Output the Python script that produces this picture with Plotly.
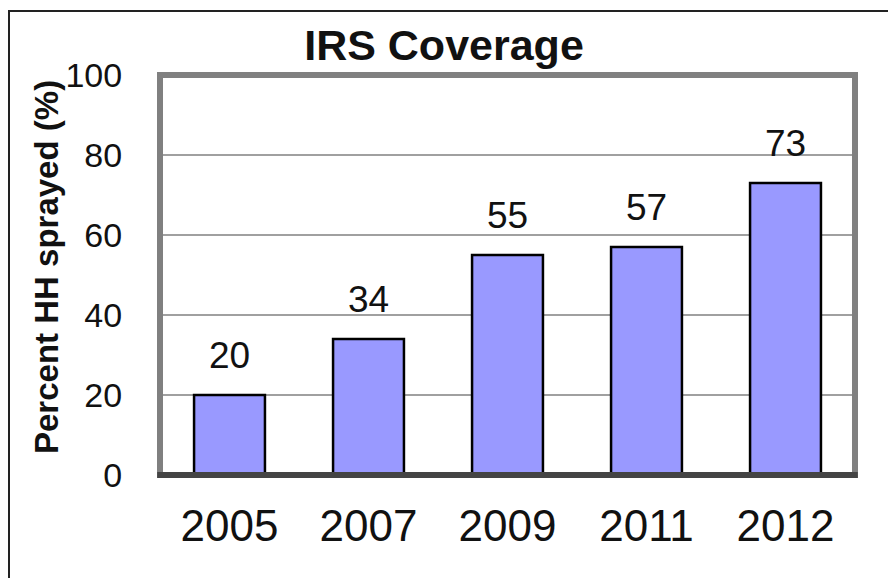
import plotly.graph_objects as go

years = ["2005", "2007", "2009", "2011", "2012"]
coverage = [20, 34, 55, 57, 73]
y_ticks = [0, 20, 40, 60, 80, 100]

FONT = "Liberation Sans, Arial, sans-serif"

fig = go.Figure()
fig.add_trace(go.Bar(
    x=years, y=coverage,
    marker=dict(color="#9999FF", line=dict(color="#000000", width=2.5)),
    hoverinfo="skip",
))

n = len(years)
for i, v in enumerate(coverage):
    fig.add_annotation(x=(i + 0.5) / n, y=v, xref="paper", yref="y", text=str(v),
                       showarrow=False, xanchor="center", yanchor="bottom", yshift=17,
                       font=dict(family=FONT, size=37, color="#111111"))

# y-axis title as annotation
fig.add_annotation(text="<b>Percent HH sprayed (%)</b>", xref="paper", yref="paper",
                   x=(46 - 160) / 695, y=(475 - 267) / 400, textangle=-90,
                   showarrow=False, xanchor="center", yanchor="middle",
                   font=dict(family=FONT, size=33, color="#111111"))

fig.update_layout(
    width=888, height=578,
    margin=dict(l=160, r=33, t=75, b=103),
    paper_bgcolor="white", plot_bgcolor="white",
    showlegend=False,
    title=dict(text="<b>IRS Coverage</b>", x=0.5, xref="container", xanchor="center",
               y=1 - 45 / 578, yref="container", yanchor="middle",
               font=dict(family=FONT, size=43, color="#111111")),
    bargap=0.49,
)
fig.update_xaxes(
    type="category",
    showgrid=False, zeroline=False, showline=False,
    ticks="outside", ticklen=12, tickcolor="rgba(0,0,0,0)",
    tickfont=dict(family=FONT, size=44, color="#111111"),
)
fig.update_yaxes(
    range=[0, 100], tickvals=y_ticks, showgrid=True, gridcolor="#A0A0A0", gridwidth=1.5,
    zeroline=False, showline=False, ticks="outside", ticklen=30, tickcolor="rgba(0,0,0,0)",
    tickfont=dict(family=FONT, size=34, color="#111111"),
)

# gray plot-area frame
fig.add_shape(type="rect", xref="paper", yref="paper", x0=0, x1=1, y0=0, y1=1,
              line=dict(color="#808080", width=6), layer="above")
# darker bottom axis
fig.add_shape(type="line", xref="paper", yref="paper", x0=-0.004, x1=1.004, y0=0, y1=0,
              line=dict(color="#444444", width=6), layer="above")
# outer frame (cut off at right and bottom)
fig.add_shape(type="rect", xref="paper", yref="paper",
              x0=(9 - 160) / 695, x1=1.2, y0=-0.4, y1=(475 - 11) / 400,
              line=dict(color="#222222", width=2), layer="above")

fig.write_html("out.html")
